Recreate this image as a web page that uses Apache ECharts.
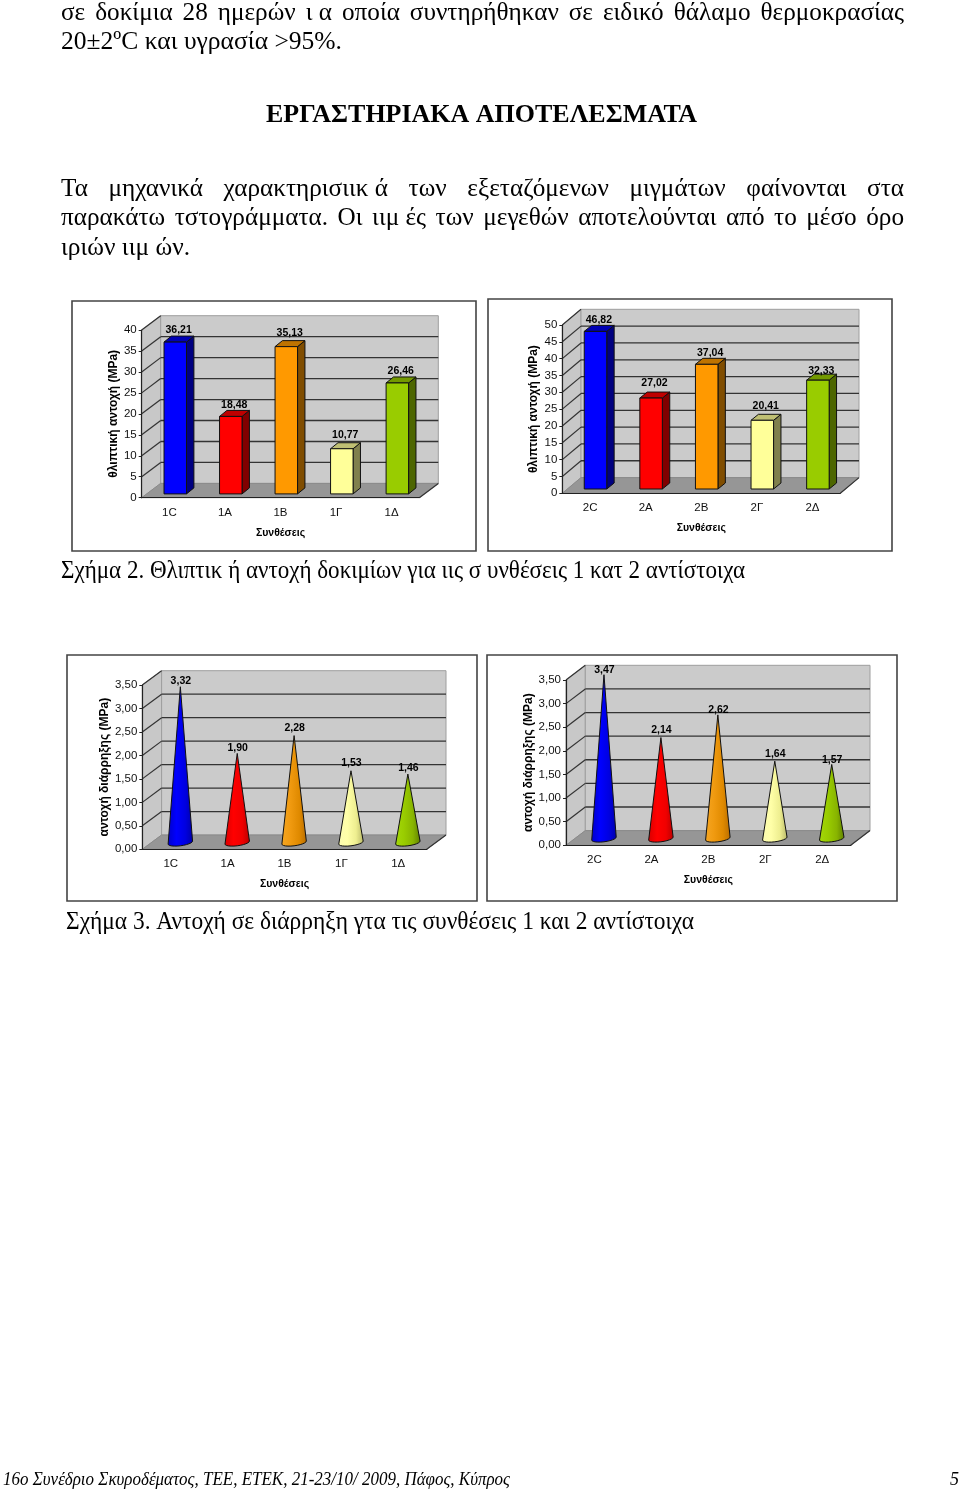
<!DOCTYPE html>
<html><head><meta charset="utf-8">
<style>html,body{margin:0;padding:0;background:#fff}#c{width:960px;height:1491px}</style>
<script src="https://cdn.jsdelivr.net/npm/echarts@6/dist/echarts.min.js"></script>
</head><body><div id="c"></div>
<script>
// ---- data ----
const categories1 = ['1C','1A','1B','1Γ','1Δ'];
const categories2 = ['2C','2A','2B','2Γ','2Δ'];
const flexural1 = [36.21,18.48,35.13,10.77,26.46];
const flexural2 = [46.82,27.02,37.04,20.41,32.33];
const splitting1 = [3.32,1.90,2.28,1.53,1.46];
const splitting2 = [3.47,2.14,2.62,1.64,1.57];
const ticksA = [0,5,10,15,20,25,30,35,40];
const ticksB = [0,5,10,15,20,25,30,35,40,45,50];
const ticksC = [0,0.5,1,1.5,2,2.5,3,3.5];
const yName1 = 'θλιπτική αντοχή (MPa)';
const yName2 = 'αντοχή διάρρηξης (MPa)';
const xName = 'Συνθέσεις';
const bodyLines = [
 'σε δοκίμια 28 ημερών ι\u00a0α οποία συντηρήθηκαν σε ειδικό θάλαμο θερμοκρασίας',
 '20±2ºC και υγρασία >95%.',
 'ΕΡΓΑΣΤΗΡΙΑΚΑ ΑΠΟΤΕΛΕΣΜΑΤΑ',
 'Τα μηχανικά χαρακτηρισιικ\u00a0ά των εξεταζόμενων μιγμάτων φαίνονται στα',
 'παρακάτω τστογράμματα. Οι ιιμ\u00a0ές των μεγεθών αποτελούνται από το μέσο όρο',
 'ιριών ιιμ ών.',
 'Σχήμα 2. Θλιπτικ ή αντοχή δοκιμίων για ιις σ υνθέσεις 1 κατ 2 αντίστοιχα',
 'Σχήμα 3. Αντοχή σε διάρρηξη γτα τις συνθέσεις 1 και 2 αντίστοιχα',
 '16ο Συνέδριο Σκυροδέματος, ΤΕΕ, ΕΤΕΚ, 21-23/10/ 2009, Πάφος, Κύπρος',
 '5'
];
// ---- styles & layout ----
const faces = [
 {front:'#0000ff',top:'#0000b4',side:'#000080',g:['#0000c8','#0000ff','#0000e0','#0000a8']},
 {front:'#ff0000',top:'#bf0000',side:'#800000',g:['#d80000','#ff0000','#f00000','#b80000']},
 {front:'#ff9900',top:'#bf7300',side:'#804d00',g:['#f5a623','#f09a10','#e08a00','#b86c00']},
 {front:'#ffff99',top:'#bfbf73',side:'#80804d',g:['#fbfbb0','#ffffa8','#eeee90','#b8b868']},
 {front:'#99cc00',top:'#739900',side:'#4d6600',g:['#a4d80a','#99cc00','#88b400','#5f8000']}
];
const textLayout = [
 {x:61,x2:904,y:13,size:26,mode:'justify'},
 {x:61,x2:342,y:42,size:26,mode:'fit'},
 {x:266,x2:697,y:115,size:26,mode:'fit',bold:true},
 {x:61,x2:904,y:189,size:26,mode:'justify'},
 {x:61,x2:904,y:218,size:26,mode:'justify'},
 {x:61,x2:190,y:248,size:26,mode:'fit'},
 {x:61,x2:745,y:571,size:26,mode:'fit'},
 {x:66,x2:694,y:922,size:26,mode:'fit'},
 {x:3,x2:510,y:1480,size:19,mode:'fit',italic:true},
 {x:950,x2:959,y:1480,size:19,mode:'fit',italic:true}
];
const panels = [
 {kind:'bar',cats:categories1,vals:flexural1,ticks:ticksA,yName:yName1,dec:0,frame:[72,301,404,250],x:141.7,x2:419.3,y0:497.7,y1:330,dx:19,dy:-14.3,offX:5.8,offY:-3.8,gapY:21,gapX:36,nudge:[1,2,-1,-1,1]},
 {kind:'bar',cats:categories2,vals:flexural2,ticks:ticksB,yName:yName1,dec:0,frame:[488,299,404,252],x:562.3,x2:840.3,y0:493.3,y1:325,dx:18.7,dy:-15.7,offX:5.4,offY:-4.3,gapY:23,gapX:35,nudge:[2,-2,2,-1,4]},
 {kind:'cone',cats:categories1,vals:splitting1,ticks:ticksC,yName:yName2,dec:2,frame:[67,655,410,246],x:142.3,x2:426.7,y0:849.3,y1:685,dx:19.3,dy:-14.3,offX:9.6,offY:-6.7,gapY:32,gapX:35,nudge:[0,1,-1,-2,0]},
 {kind:'cone',cats:categories2,vals:splitting2,ticks:ticksC,yName:yName2,dec:2,frame:[487,655,410,246],x:566,x2:850.7,y0:845.3,y1:680,dx:19.3,dy:-14.7,offX:9.5,offY:-6.7,gapY:31,gapX:35,nudge:[1,-1,1,-1,2]}
];
const SANS = 'Liberation Sans';
const comma = (v,d) => v.toFixed(d).replace('.',',');

function wallItem(p){
 return function(params, api){
  const cs = params.coordSys, t = api.value(1), y = api.coord([0,t])[1];
  const L = cs.x, R = cs.x+cs.width, B = p.y0;
  const kids = [];
  if(params.dataIndex === 0){
   const T = p.y1;
   kids.push({type:'polygon',shape:{points:[[L,B],[L,T],[L+p.dx,T+p.dy],[L+p.dx,B+p.dy]]},style:{fill:'#c8c8c8',stroke:'#9e9e9e',lineWidth:1}});
   kids.push({type:'polygon',shape:{points:[[L+p.dx,T+p.dy],[R+p.dx,T+p.dy],[R+p.dx,B+p.dy],[L+p.dx,B+p.dy]]},style:{fill:'#cbcbcb',stroke:'#9e9e9e',lineWidth:1}});
   kids.push({type:'polygon',shape:{points:[[L,B],[L+p.dx,B+p.dy],[R+p.dx,B+p.dy],[R,B]]},style:{fill:'#969696',stroke:'#8a8a8a',lineWidth:1}});
   kids.push({type:'line',shape:{x1:R,y1:B,x2:R+p.dx,y2:B+p.dy},style:{stroke:'#333',lineWidth:1.2}});
  } else {
   if(params.dataIndex < p.ticks.length-1)
    kids.push({type:'line',shape:{x1:L+p.dx,y1:y+p.dy,x2:R+p.dx,y2:y+p.dy},style:{stroke:'#333',lineWidth:1.3}});
   kids.push({type:'line',shape:{x1:L,y1:y,x2:L+p.dx,y2:y+p.dy},style:{stroke:'#333',lineWidth:1.2}});
  }
  return {type:'group',children:kids};
 };
}
function labelEl(text,x,y){
 return {type:'text',x:x,y:y,style:{text:text,align:'center',verticalAlign:'middle',textAlign:'center',textVerticalAlign:'middle',font:'bold 10.5px "'+SANS+'"',fill:'#000'}};
}
function barItem(p){
 return function(params, api){
  const i = api.value(0), v = api.value(1), f = faces[i];
  const base = api.coord([i,0]), top = api.coord([i,v]);
  const w = api.size([1,0])[0]*0.405, sx = 7.4, sy = 6;
  const cx = base[0]+p.offX, l = cx-w/2, r = cx+w/2, b = base[1]+p.offY, t = top[1]+p.offY;
  const st = c => ({fill:c,stroke:'#111',lineWidth:1});
  return {type:'group',children:[
   {type:'polygon',shape:{points:[[r,b],[r,t],[r+sx,t-sy],[r+sx,b-sy]]},style:st(f.side)},
   {type:'polygon',shape:{points:[[l,t],[l+sx,t-sy],[r+sx,t-sy],[r,t]]},style:st(f.top)},
   {type:'rect',shape:{x:l,y:t,width:r-l,height:b-t},style:st(f.front)},
   labelEl(comma(v,2),cx+3.4,t-sy-7+p.nudge[i])
  ]};
 };
}
function coneItem(p){
 return function(params, api){
  const i = api.value(0), v = api.value(1), f = faces[i];
  const base = api.coord([i,0]), top = api.coord([i,v]);
  const rx = api.size([1,0])[0]*0.215, ry = 3.2, tilt = 1.5;
  const cx = base[0]+p.offX, cy = base[1]+p.offY, tipY = top[1]+p.offY;
  const pts = [[cx,tipY]];
  for(let a=0;a<=180;a+=15){
   const c = Math.cos(a*Math.PI/180), s = Math.sin(a*Math.PI/180);
   pts.push([cx+rx*c, cy+ry*s-tilt*c]);
  }
  return {type:'group',children:[
   {type:'polygon',shape:{points:pts},style:{
     fill:{type:'linear',x:0,y:0,x2:1,y2:0,colorStops:[{offset:0,color:f.g[0]},{offset:0.35,color:f.g[1]},{offset:0.7,color:f.g[2]},{offset:1,color:f.g[3]}]},
     stroke:'#111',lineWidth:1}},
   labelEl(comma(v,2),cx+0.5,tipY-6+p.nudge[i])
  ]};
 };
}

const grid=[],xAxis=[],yAxis=[],series=[],graphic=[];
panels.forEach((p,k)=>{
 const [fx,fy,fw,fh] = p.frame;
 graphic.push({type:'rect',z:-10,shape:{x:fx,y:fy,width:fw,height:fh},style:{fill:'#fff',stroke:'#444',lineWidth:1.6}});
 const ymax = p.ticks[p.ticks.length-1];
 grid.push({left:p.x,top:p.y1,width:p.x2-p.x,height:p.y0-p.y1,show:false});
 xAxis.push({type:'category',gridIndex:k,data:p.cats,z:5,
  name:xName,nameLocation:'middle',nameGap:p.gapX-6,
  nameTextStyle:{fontFamily:SANS,fontWeight:'bold',fontSize:10.5,color:'#000'},
  axisLine:{lineStyle:{color:'#222',width:1.2}},
  axisTick:{length:3,lineStyle:{color:'#222'}},
  axisLabel:{fontFamily:SANS,fontSize:11.5,color:'#111',margin:9}});
 yAxis.push({type:'value',gridIndex:k,min:0,max:ymax,interval:p.ticks[1]-p.ticks[0],z:5,
  name:p.yName,nameLocation:'middle',nameRotate:90,nameGap:p.gapY,
  nameTextStyle:{fontFamily:SANS,fontWeight:'bold',fontSize:12,color:'#000'},
  splitLine:{show:false},
  axisLine:{show:true,lineStyle:{color:'#222',width:1.2}},
  axisTick:{show:true,length:3,lineStyle:{color:'#222'}},
  axisLabel:{fontFamily:SANS,fontSize:11.5,color:'#111',margin:5,padding:[2,0,0,0],formatter:v=>comma(v,p.dec)}});
 series.push({type:'custom',xAxisIndex:k,yAxisIndex:k,z:1,silent:true,clip:false,
  data:p.ticks.map(t=>[0,t]),encode:{x:0,y:1},renderItem:wallItem(p)});
 series.push({type:'custom',xAxisIndex:k,yAxisIndex:k,z:3,silent:true,clip:false,
  data:p.vals.map((v,i)=>[i,v]),encode:{x:0,y:1},renderItem:p.kind==='bar'?barItem(p):coneItem(p)});
});

// page text: real text, justified word by word like the scanned page
const mc = document.createElement('canvas').getContext('2d');
bodyLines.forEach((txt,i)=>{
 const L = textLayout[i];
 const font = (L.italic?'italic ':'')+(L.bold?'bold ':'')+L.size+'px "Liberation Serif"';
 mc.font = font;
 const mk = (t,x,sx)=>({type:'text',x:x,y:L.y,scaleX:sx,z:5,style:{text:t,font:font,fill:'#000',align:'left',verticalAlign:'middle',textAlign:'left',textVerticalAlign:'middle'}});
 const W = L.x2-L.x;
 if(L.mode==='justify'){
  const words = txt.split(' ');
  const sx = 0.97;
  const ws = words.map(w=>mc.measureText(w).width*sx);
  const sum = ws.reduce((a,b)=>a+b,0);
  const gap = (W-sum)/(words.length-1);
  let x = L.x;
  words.forEach((w,j)=>{graphic.push(mk(w,x,sx)); x += ws[j]+gap;});
 } else {
  graphic.push(mk(txt,L.x,W/mc.measureText(txt).width));
 }
});

const chart = echarts.init(document.getElementById('c'),null,{renderer:'canvas'});
chart.setOption({animation:false,backgroundColor:'#fff',grid,xAxis,yAxis,series,graphic:{elements:graphic}});
</script></body></html>
